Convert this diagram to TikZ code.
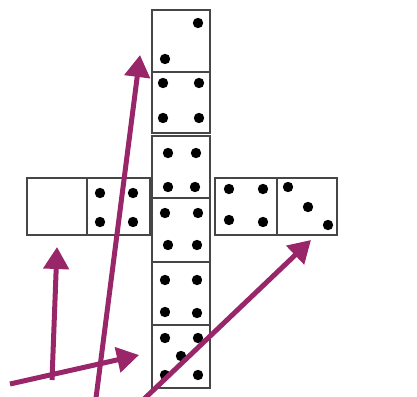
\documentclass[tikz,border=0pt]{standalone}
\usetikzlibrary{arrows.meta}
\definecolor{arrowcol}{RGB}{152,38,104}
\definecolor{edgecol}{RGB}{70,70,70}
\tikzset{
  cell/.style={draw=edgecol, line width=1.8pt, fill=white, inner sep=0pt, outer sep=0pt},
  pip/.style={fill=black},
  bigarrow/.style={draw=arrowcol, line width=5pt, -{Triangle[length=22pt,width=25pt]}}
}
\begin{document}
\begin{tikzpicture}[x=1pt,y=-1pt]
\useasboundingbox (0,0) rectangle (417,396);
% central column
\node[cell, minimum width=58pt, minimum height=62pt] (c1) at (181,41) {};
\node[cell, minimum width=58pt, minimum height=61pt] (c2) at (181,102.5) {};
\node[cell, minimum width=58pt, minimum height=62pt] (c3) at (181,167) {};
\node[cell, minimum width=58pt, minimum height=64pt] (c4) at (181,230) {};
\node[cell, minimum width=58pt, minimum height=63pt] (c5) at (181,293.5) {};
\node[cell, minimum width=58pt, minimum height=63pt] (c6) at (181,356.5) {};
% left row
\node[cell, minimum width=60pt, minimum height=57pt] (l1) at (57,206.5) {};
\node[cell, minimum width=63pt, minimum height=57pt] (l2) at (118.5,206.5) {};
% right row
\node[cell, minimum width=62pt, minimum height=57pt] (r1) at (246,206.5) {};
\node[cell, minimum width=60pt, minimum height=57pt] (r2) at (307,206.5) {};
% pips
\foreach \p in {(198,23),(165,59),
  (163,83),(199,83),(163,118),(199,118),
  (168,153),(196,153),(168,187),(195,187),
  (165,213),(198,213),(168,245),(197,245),
  (165,280),(197,280),(165,312),(197,313),
  (165,338),(198,338),(181,356),(165,375),(198,375),
  (100,193),(133,193),(100,222),(133,222),
  (229,189),(263,189),(229,220),(263,222),
  (288,187),(308,207),(328,225)}
  \fill[pip] \p circle (5.2pt);
% arrows
\coordinate (a1s) at (96,398);
\coordinate (a1e) at (140,55);
\coordinate (a2s) at (52,380);
\coordinate (a2e) at (57,247);
\coordinate (a3s) at (10,384);
\coordinate (a3e) at (139,355);
\coordinate (a4s) at (143,400);
\coordinate (a4e) at (311,240);
\draw[bigarrow] (a2s) -- (a2e);
\draw[bigarrow] (a1s) -- (a1e);
\draw[bigarrow] (a3s) -- (a3e);
\draw[bigarrow] (a4s) -- (a4e);
\end{tikzpicture}
\end{document}
